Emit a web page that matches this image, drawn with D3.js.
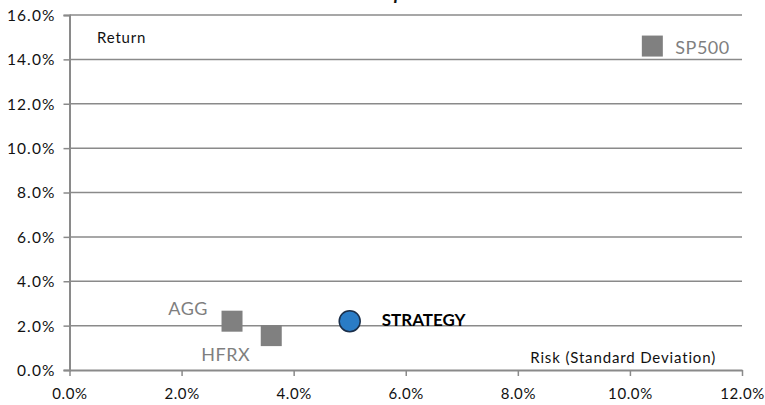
<!DOCTYPE html>
<html>
<head>
<meta charset="utf-8">
<script src="https://cdn.jsdelivr.net/npm/d3@7"></script>
<style>
  html, body { margin: 0; padding: 0; background: #fff; }
  svg { display: block; font-family: Lato, "Open Sans", sans-serif; }
</style>
</head>
<body>
<svg id="chart" width="765" height="405"></svg>
<script>
// Risk (x) vs return (y), in percent
const benchmarks = ["SP500", "AGG", "HFRX"];
const benchmarkRisk = [10.4, 2.9, 3.6];
const benchmarkReturn = [14.6, 2.2, 1.55];
const strategyName = "STRATEGY";
const strategyRisk = [5.0];
const strategyReturn = [2.2];
const xTicks = [0, 2, 4, 6, 8, 10, 12];
const yTicks = [0, 2, 4, 6, 8, 10, 12, 14, 16];

const svg = d3.select("#chart");
const x = d3.scaleLinear().domain([0, 12]).range([69.5, 742]);
const y = d3.scaleLinear().domain([0, 16]).range([370, 15]);
const fmt = d => d.toFixed(1) + "%";
const gridColor = "#8a8a8a";

// title (sits mostly above the visible area)
svg.append("text")
  .attr("x", 375).attr("y", 0)
  .attr("text-anchor", "middle")
  .attr("font-size", 19).attr("font-style", "italic").attr("font-weight", "bold")
  .attr("fill", "#111")
  .text("Since Inception");

// horizontal gridlines
svg.append("g").selectAll("line")
  .data(yTicks.filter(d => d > 0))
  .join("line")
  .attr("x1", x(0)).attr("x2", x(12))
  .attr("y1", d => y(d)).attr("y2", d => y(d))
  .attr("stroke", gridColor).attr("stroke-width", 1.5);

// y axis
const yAxis = svg.append("g")
  .attr("transform", `translate(${x(0)},0)`)
  .call(d3.axisLeft(y).tickValues(yTicks).tickFormat(fmt).tickSize(6).tickPadding(8));
yAxis.select(".domain").attr("stroke", gridColor).attr("stroke-width", 2);
yAxis.selectAll(".tick line").attr("stroke", gridColor).attr("stroke-width", 1.5);
yAxis.selectAll(".tick text").attr("font-size", 15.5).attr("letter-spacing", 1.1).attr("fill", "#111")
  .attr("font-family", "Lato, sans-serif").attr("dy", "0.35em");

// x axis
const xAxis = svg.append("g")
  .attr("transform", `translate(0,${y(0)})`)
  .call(d3.axisBottom(x).tickValues(xTicks).tickFormat(fmt).tickSize(6).tickSizeOuter(0).tickPadding(12));
xAxis.select(".domain").attr("stroke", gridColor).attr("stroke-width", 2);
xAxis.selectAll(".tick line").attr("stroke", gridColor).attr("stroke-width", 1.5);
xAxis.selectAll(".tick text").attr("font-size", 15).attr("letter-spacing", 0.6).attr("fill", "#111")
  .attr("font-family", "Lato, sans-serif");

// axis captions inside the plot
svg.append("text").attr("x", 97).attr("y", 43)
  .attr("font-size", 15).attr("letter-spacing", 0.8).attr("fill", "#111").text("Return");
svg.append("text").attr("x", 716).attr("y", 363).attr("text-anchor", "end")
  .attr("font-size", 15).attr("letter-spacing", 0.85).attr("fill", "#111").text("Risk (Standard Deviation)");

// benchmark markers
const sq = 21;
const bench = benchmarks.map((name, i) => ({ name, risk: benchmarkRisk[i], ret: benchmarkReturn[i] }));
svg.append("g").selectAll("rect")
  .data(bench)
  .join("rect")
  .attr("x", d => x(d.risk) - sq / 2)
  .attr("y", d => y(d.ret) - sq / 2)
  .attr("width", sq).attr("height", sq)
  .attr("fill", "#808080");

// benchmark labels
const labelPos = {
  SP500: { dx: 23, dy: 8, anchor: "start" },
  AGG:   { dx: -24, dy: -6, anchor: "end" },
  HFRX:  { dx: -21, dy: 25, anchor: "end" }
};
svg.append("g").selectAll("text")
  .data(bench)
  .join("text")
  .attr("x", d => x(d.risk) + labelPos[d.name].dx)
  .attr("y", d => y(d.ret) + labelPos[d.name].dy)
  .attr("text-anchor", d => labelPos[d.name].anchor)
  .attr("font-size", 18).attr("letter-spacing", 0.5).attr("fill", "#7f7f7f")
  .text(d => d.name);

// strategy marker
svg.append("circle")
  .attr("cx", x(strategyRisk[0])).attr("cy", y(strategyReturn[0]))
  .attr("r", 10.5)
  .attr("fill", "#2a7cc6").attr("stroke", "#1b2f4a").attr("stroke-width", 1.5);
svg.append("text")
  .attr("x", x(strategyRisk[0]) + 32).attr("y", y(strategyReturn[0]) + 5)
  .attr("font-size", 17).attr("font-weight", "bold").attr("fill", "#000")
  .text(strategyName);
</script>
</body>
</html>
